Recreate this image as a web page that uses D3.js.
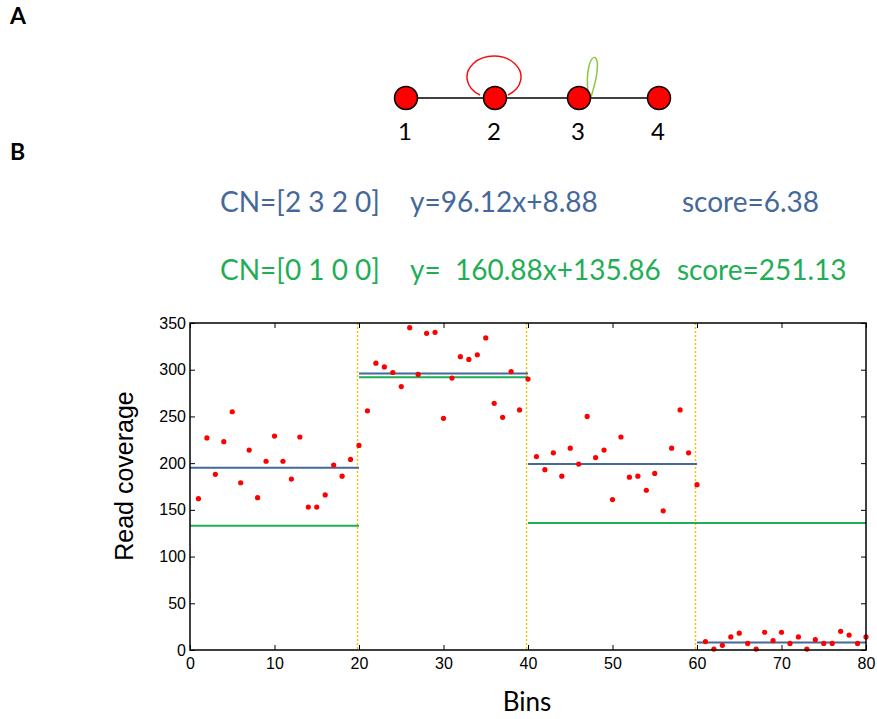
<!DOCTYPE html>
<html>
<head>
<meta charset="utf-8">
<script src="https://cdnjs.cloudflare.com/ajax/libs/d3/7.8.5/d3.min.js"></script>
<style>
  body { margin: 0; background: #fff; }
  svg { display: block; }
</style>
</head>
<body>
<div id="chart"></div>
<script>
// read coverage per bin (bins 1..80)
const coverage = [
  162, 227, 188, 223, 255, 179, 214, 163, 202, 229, 202, 183, 228, 153, 153, 166, 198, 186, 204, 219,
  256, 307, 303, 297, 282, 345, 295, 339, 340, 248, 291, 314, 311, 316, 334, 264, 249, 298, 257, 290,
  207, 193, 211, 186, 216, 199, 250, 206, 214, 161, 228, 185, 186, 171, 189, 149, 216, 257, 211, 177,
  9, 1, 5, 14, 18, 7, 1, 19, 10, 19, 7, 14, 1, 11, 7, 7, 20, 16, 7, 14
];
const segStart = [0, 20, 40, 60];
const segEnd = [20, 40, 60, 80];
const blueLevel = [195, 296, 199, 8];     // CN=[2 3 2 0] fit
const greenLevel = [133, 292, 136, 136];  // CN=[0 1 0 0] fit
const breakpoints = [20, 40, 60];
const xTicks = [0, 10, 20, 30, 40, 50, 60, 70, 80];
const yTicks = [0, 50, 100, 150, 200, 250, 300, 350];

// graph in panel A
const nodeIds = ["1", "2", "3", "4"];
const blueRow = ["CN=[2 3 2 0]", "y=96.12x+8.88", "score=6.38"];
const greenRow = ["CN=[0 1 0 0]", "y=  160.88x+135.86", "score=251.13"];

const width = 877, height = 719;
const blue = "#44689a", green = "#1fae55";
const calibri = "Lato, 'Open Sans', sans-serif";

const svg = d3.select("#chart").append("svg")
    .attr("width", width)
    .attr("height", height);

// panel letters
svg.append("text").attr("x", 10).attr("y", 24).text("A")
    .attr("font-family", calibri).attr("font-weight", "bold").attr("font-size", 23);
svg.append("text").attr("x", 10).attr("y", 160).text("B")
    .attr("font-family", calibri).attr("font-weight", "bold").attr("font-size", 23);

// ---- panel A: the small graph ----
const nodeX = d3.scaleOrdinal().domain(nodeIds).range([406, 495, 579, 659]);
const nodeY = 98;
const g = svg.append("g");

g.append("line")
    .attr("x1", nodeX("1")).attr("x2", nodeX("4"))
    .attr("y1", nodeY).attr("y2", nodeY)
    .attr("stroke", "#000").attr("stroke-width", 1.5);

// self loop on node 2 (red) and node 3 (green)
const x2 = nodeX("2"), x3 = nodeX("3");
g.append("path")
    .attr("d", `M${x2 - 15},${nodeY - 3} A27,21 0 1 1 ${x2 + 13},${nodeY - 3}`)
    .attr("fill", "none").attr("stroke", "#f01010").attr("stroke-width", 1.5);
g.append("path")
    .attr("d", `M${x3 + 9},${nodeY - 6} C${x3 + 4},${nodeY - 50} ${x3 + 30},${nodeY - 56} ${x3 + 12},${nodeY - 1}`)
    .attr("fill", "none").attr("stroke", "#8cc63f").attr("stroke-width", 1.5);

g.selectAll("circle")
    .data(nodeIds)
    .enter().append("circle")
    .attr("cx", d => nodeX(d))
    .attr("cy", nodeY)
    .attr("r", 11.5)
    .attr("fill", "#ff0000")
    .attr("stroke", "#000")
    .attr("stroke-width", 1.5);

g.selectAll("text")
    .data(nodeIds)
    .enter().append("text")
    .attr("x", d => nodeX(d) - 1)
    .attr("y", 140)
    .attr("text-anchor", "middle")
    .attr("font-family", calibri)
    .attr("font-size", 24)
    .text(d => d);

// ---- panel B: fit equations ----
function textRow(row, y, color, xs) {
    svg.append("g").selectAll("text")
        .data(row)
        .enter().append("text")
        .attr("x", (d, i) => xs[i])
        .attr("y", y)
        .attr("fill", color)
        .attr("font-family", calibri)
        .attr("font-size", 28)
        .style("white-space", "pre")
        .text(d => d);
}
textRow(blueRow, 212, blue, [220, 410, 682]);
textRow(greenRow, 280, green, [220, 410, 677]);

// ---- panel B: coverage plot ----
const x = d3.scaleLinear().domain([0, 80]).range([190, 866]);
const y = d3.scaleLinear().domain([0, 350]).range([650, 323]);
const plot = svg.append("g");

// dotted breakpoints
plot.selectAll(".bp")
    .data(breakpoints)
    .enter().append("line")
    .attr("class", "bp")
    .attr("x1", d => x(d) - 1.5).attr("x2", d => x(d) - 1.5)
    .attr("y1", y(350)).attr("y2", y(0))
    .attr("stroke", "#f5c000")
    .attr("stroke-width", 1.5)
    .attr("stroke-dasharray", "2,2");

const segs = d3.range(segStart.length);
plot.selectAll(".green")
    .data(segs)
    .enter().append("line")
    .attr("x1", i => x(segStart[i])).attr("x2", i => x(segEnd[i]))
    .attr("y1", i => y(greenLevel[i])).attr("y2", i => y(greenLevel[i]))
    .attr("stroke", green).attr("stroke-width", 2);
plot.selectAll(".blue")
    .data(segs)
    .enter().append("line")
    .attr("x1", i => x(segStart[i])).attr("x2", i => x(segEnd[i]))
    .attr("y1", i => y(blueLevel[i])).attr("y2", i => y(blueLevel[i]))
    .attr("stroke", blue).attr("stroke-width", 2);

plot.selectAll(".pt")
    .data(coverage)
    .enter().append("circle")
    .attr("cx", (d, i) => x(i + 1))
    .attr("cy", d => y(d))
    .attr("r", 2.6)
    .attr("fill", "#ff0000");

// axes with inward ticks on all four sides
const tickFont = "'Liberation Sans', Arial, sans-serif";
function styleAxis(sel) {
    sel.select(".domain").remove();
    sel.selectAll("line").attr("stroke", "#000");
    sel.selectAll("text").attr("font-family", tickFont).attr("font-size", 16).attr("fill", "#000");
}
plot.append("g").attr("transform", `translate(0,${y(0)})`)
    .call(d3.axisBottom(x).tickValues(xTicks).tickSizeInner(-5).tickSizeOuter(0).tickPadding(8))
    .call(styleAxis);
plot.append("g").attr("transform", `translate(0,${y(350)})`)
    .call(d3.axisTop(x).tickValues(xTicks).tickSizeInner(-5).tickSizeOuter(0).tickFormat(""))
    .call(styleAxis);
plot.append("g").attr("transform", `translate(${x(0)},0)`)
    .call(d3.axisLeft(y).tickValues(yTicks).tickSizeInner(-5).tickSizeOuter(0).tickPadding(4))
    .call(styleAxis);
plot.append("g").attr("transform", `translate(${x(80)},0)`)
    .call(d3.axisRight(y).tickValues(yTicks).tickSizeInner(-5).tickSizeOuter(0).tickFormat(""))
    .call(styleAxis);

plot.append("rect")
    .attr("x", x(0)).attr("y", y(350))
    .attr("width", x(80) - x(0)).attr("height", y(0) - y(350))
    .attr("fill", "none").attr("stroke", "#000").attr("stroke-width", 1.5);

// axis titles
svg.append("text")
    .attr("transform", `translate(133,476) rotate(-90)`)
    .attr("text-anchor", "middle")
    .attr("font-family", tickFont)
    .attr("font-size", 25)
    .text("Read coverage");
svg.append("text")
    .attr("x", 527).attr("y", 711)
    .attr("text-anchor", "middle")
    .attr("font-family", calibri)
    .attr("font-size", 26)
    .text("Bins");
</script>
</body>
</html>
